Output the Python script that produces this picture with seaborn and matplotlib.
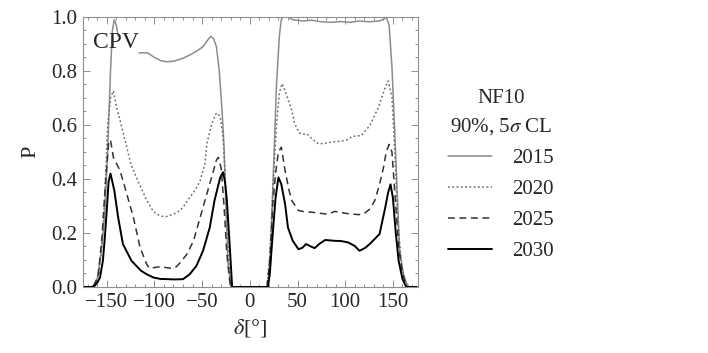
import numpy as np
import pandas as pd
import matplotlib
matplotlib.use("Agg")
import matplotlib.pyplot as plt
import seaborn as sns
from matplotlib.ticker import MultipleLocator

# delta [deg] and probability P
years = ["2015", "2020", "2025", "2030"]

d2015 = [-175, -165, -160, -156, -152, -149, -146, -144, -142, -140, -138, np.nan,
         -116, -107, -100, -93, -87, -80, -70, -63, -55, -49, -44, -41, -38, -35, -32,
         -29, -27, -25, -23, -20, 19, 22, 25, 28, 31, 33, 35, 40, 45, 55, 65, 75, 85,
         95, 105, 115, 125, 135, 140, 143, 146, 149, 152, 157, 161, 164, 167, 175]
p2015 = [0, 0, 0.03, 0.12, 0.27, 0.5, 0.8, 0.95, 0.99, 0.97, 0.93, np.nan,
         0.867, 0.867, 0.85, 0.838, 0.834, 0.836, 0.847, 0.859, 0.875, 0.89, 0.915, 0.928,
         0.92, 0.89, 0.8, 0.65, 0.52, 0.3, 0.1, 0, 0, 0.15, 0.45, 0.75, 0.93, 0.99, 1.0,
         1.0, 0.99, 0.985, 0.988, 0.982, 0.98, 0.983, 0.98, 0.985, 0.982, 0.985, 0.99,
         1.0, 0.97, 0.815, 0.568, 0.134, 0.05, 0.015, 0, 0]

d2020 = [-175, -163, -158, -154, -151, -149, -146, -143, -140, -136, -129, -125, -119,
         -113, -108, -103, -98, -92, -87, -80, -73, -68, -63, -57, -52, -47, -45, -40, -35,
         -33, -31, -28, -25, -22, -20, 18, 21, 24, 26, 28, 31, 34, 38, 44, 47, 52, 56, 60,
         65, 72, 79, 86, 96, 102, 107, 117, 126, 135, 142, 145, 149, 152, 155, 159, 164, 175]
p2020 = [0, 0, 0.05, 0.2, 0.42, 0.6, 0.7, 0.726, 0.67, 0.617, 0.518, 0.46, 0.406,
         0.36, 0.32, 0.29, 0.27, 0.262, 0.261, 0.27, 0.283, 0.305, 0.332, 0.36, 0.394, 0.457,
         0.53, 0.605, 0.644, 0.64, 0.63, 0.555, 0.35, 0.1, 0, 0, 0.12, 0.35, 0.48, 0.6, 0.72,
         0.753, 0.716, 0.654, 0.605, 0.57, 0.566, 0.567, 0.549, 0.53, 0.532, 0.537, 0.54,
         0.545, 0.557, 0.561, 0.599, 0.667, 0.741, 0.763, 0.704, 0.5, 0.25, 0.08, 0, 0]

d2025 = [-175, -164, -159, -155, -151, -148, -146, -143, -136, -129, -122, -115, -108,
         -105, -100, -94, -88, -82, -77, -73, -66, -59, -52, -45, -38, -35, -33, -30, -27,
         -24, -21, -20, 18, 21, 24, 27, 30, 33, 37, 41, 44, 51, 58, 65, 73, 82, 89, 100, 107,
         114, 119, 126, 131, 136, 140, 143, 146, 149, 152, 156, 160, 165, 175]
p2025 = [0, 0, 0.04, 0.18, 0.4, 0.53, 0.545, 0.48, 0.431, 0.345, 0.258, 0.146, 0.084,
         0.069, 0.072, 0.075, 0.072, 0.069, 0.075, 0.09, 0.121, 0.171, 0.258, 0.345, 0.431,
         0.47, 0.48, 0.44, 0.3, 0.12, 0.02, 0, 0, 0.1, 0.3, 0.42, 0.5, 0.518, 0.431, 0.36,
         0.32, 0.283, 0.278, 0.277, 0.273, 0.27, 0.28, 0.273, 0.27, 0.268, 0.27, 0.289,
         0.32, 0.38, 0.44, 0.5, 0.528, 0.5, 0.35, 0.15, 0.05, 0, 0]

d2030 = [-175, -166, -163, -160, -157, -154, -152, -150, -148, -146, -142, -138, -133,
         -124, -114, -108, -101, -94, -87, -78, -70, -63, -56, -49, -42, -37, -31, -28,
         -26, -24, -21, -18.5, 19, 21, 24, 27, 30, 33, 37, 40, 45, 51, 55, 59, 64, 68, 73, 79,
         89, 96, 103, 110, 115, 121, 126, 129, 136, 142, 145, 147.5, 150, 153, 156, 160, 164,
         175]
p2030 = [0, 0, 0.003, 0.015, 0.035, 0.097, 0.18, 0.28, 0.39, 0.42, 0.357, 0.258, 0.159,
         0.097, 0.06, 0.047, 0.035, 0.03, 0.029, 0.028, 0.029, 0.047, 0.078, 0.134,
         0.22, 0.32, 0.406, 0.425, 0.39, 0.32, 0.15, 0, 0, 0.05, 0.196, 0.33, 0.406, 0.381,
         0.307, 0.22, 0.171, 0.14, 0.145, 0.159, 0.15, 0.144, 0.16, 0.174, 0.171, 0.17,
         0.165, 0.152, 0.134, 0.145, 0.16, 0.171, 0.196, 0.295, 0.35, 0.38, 0.33, 0.2,
         0.097, 0.03, 0, 0]

series = {"2015": (d2015, p2015), "2020": (d2020, p2020),
          "2025": (d2025, p2025), "2030": (d2030, p2030)}
styles = {"2015": dict(color="#8c8c8c", lw=1.1, ls="-"),
          "2020": dict(color="#6e6e6e", lw=1.1, ls=(0, (1.2, 1.6))),
          "2025": dict(color="#333333", lw=1.1, ls=(0, (4.5, 3))),
          "2030": dict(color="black", lw=1.4, ls="-")}

sns.set_style("ticks")
plt.rcParams["font.family"] = ["Liberation Serif", "DejaVu Serif"]
plt.rcParams["mathtext.fontset"] = "stix"

fig = plt.figure(figsize=(7.08, 3.53), dpi=100)
ax = fig.add_axes([0.117, 0.187, 0.473, 0.765])

for yr in years:
    df = pd.DataFrame({"delta": series[yr][0], "P": series[yr][1]})
    # split on NaN breaks so gaps stay gaps
    seg = df["P"].isna().cumsum()
    first = True
    for _, part in df.dropna().groupby(seg[df["P"].notna()]):
        st = styles[yr]
        sns.lineplot(data=part, x="delta", y="P", ax=ax, sort=False,
                     color=st["color"], linewidth=st["lw"], linestyle=st["ls"],
                     label=yr if first else None)
        first = False

ax.set_xlim(-175, 176)
ax.set_ylim(0, 1)
ax.xaxis.set_major_locator(MultipleLocator(50))
ax.xaxis.set_minor_locator(MultipleLocator(10))
ax.yaxis.set_major_locator(MultipleLocator(0.2))
ax.yaxis.set_minor_locator(MultipleLocator(0.05))
ax.yaxis.set_major_formatter(matplotlib.ticker.FormatStrFormatter("%.1f"))
ax.xaxis.set_major_formatter(matplotlib.ticker.FuncFormatter(
    lambda v, p: f"{int(v)}".replace("-", "\u2212")))
for s in ax.spines.values():
    s.set_visible(True)
    s.set_color("#909090")
    s.set_linewidth(0.8)
ax.tick_params(which="both", direction="in", top=True, right=True,
               color="#909090", labelsize=15, width=0.7, pad=4)
ax.tick_params(which="major", length=5)
ax.tick_params(which="minor", length=2.5)

ax.set_xlabel(r"$\delta$[°]", fontsize=16, labelpad=4)
ax.set_ylabel("P", fontsize=16, labelpad=8)
ax.text(-164, 0.905, "CPV", fontsize=17, ha="left", va="center")

ax.get_legend().remove()
h, l = ax.get_legend_handles_labels()
leg = fig.legend(h, l, title="NF10\n90%, 5$\\sigma$ CL", loc="upper left",
                 bbox_to_anchor=(0.606, 0.80), frameon=False, fontsize=15,
                 title_fontsize=15, handlelength=2.1, handletextpad=1.0,
                 labelspacing=0.55)
leg.get_title().set_multialignment("center")
leg.get_title().set_linespacing(1.5)

fig.savefig("out.png", dpi=100)
